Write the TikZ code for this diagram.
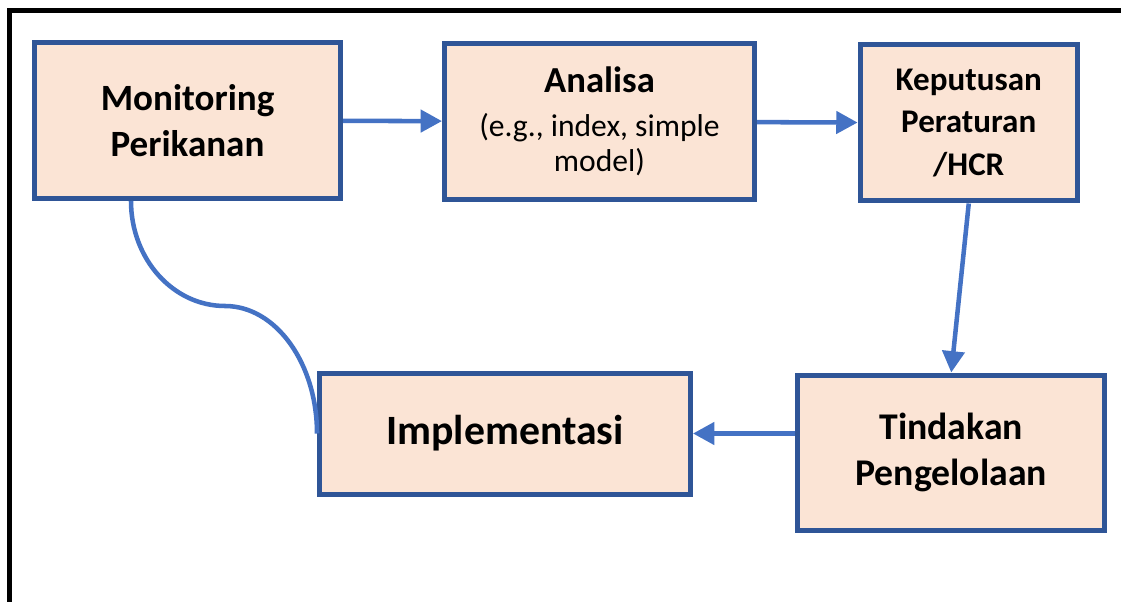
\documentclass[tikz,border=0pt]{standalone}
\usepackage{fontspec}
\setmainfont{Carlito}
\usepackage{tikz}
\usetikzlibrary{positioning}
\usetikzlibrary{arrows.meta}
\usetikzlibrary{calc}

\definecolor{boxfill}{HTML}{FBE4D5}
\definecolor{boxline}{HTML}{2F5597}
\definecolor{flowline}{HTML}{4472C4}

\begin{document}
\begin{tikzpicture}[x=0.75pt, y=-0.75pt,
    stage/.style={draw=boxline, fill=boxfill, line width=3.75pt, align=center, inner sep=0pt},
    flow/.style={draw=flowline, line width=3.4pt, -{Triangle[length=16pt, width=16.5pt]}},
    loopline/.style={draw=flowline, line width=3.4pt}]

                \useasboundingbox (0,0) rectangle (1121,602);
                % Frame
                \draw[line width=3.75pt] (9.5,640) -- (9.5,11) -- (1160,11);

                % Nodes
                \node at (187.5,120.5) (monitor) [stage, minimum width=229.5pt, minimum height=117pt,
                    font=\fontsize{27.8}{35}\selectfont\bfseries] {Monitoring\\Perikanan};
                \node at (599.5,121.5) (analisa) [stage, minimum width=232.5pt, minimum height=117pt,
                    font=\fontsize{23.7}{26.3}\selectfont]
                    {{\fontsize{27.5}{26.3}\selectfont\bfseries Analisa}\\[6.5pt](e.g., index, simple\\model)};
                \node at (968.75,123) (hcr) [stage, minimum width=163pt, minimum height=117pt,
                    font=\fontsize{24.8}{32}\selectfont\bfseries] {Keputusan\\Peraturan\\/HCR};
                \node at (951.25,452.5) (tindakan) [stage, minimum width=230pt, minimum height=116.25pt,
                    font=\fontsize{28.3}{34}\selectfont\bfseries] {Tindakan\\Pengelolaan};
                \node at (505,433.5) (impl) [stage, minimum width=278.25pt, minimum height=90.75pt,
                    font=\fontsize{31.3}{34}\selectfont\bfseries] {Implementasi};

                % Arrows
                \draw[flow] (monitor) -- (analisa);
                \draw[flow] (analisa) -- (hcr);
                \draw[flow] (hcr.south) -- (tindakan.north);
                \draw[flow] (tindakan.west |- impl.east) -- (impl.east);

                % Return line: Implementasi back up to Monitoring
                \coordinate (dip) at (225,306);
                \draw[loopline] (impl.west) .. controls +(0,-70) and +(51,0) .. (dip)
                    .. controls +(-52,0) and +(0,58) .. ($(monitor.south)+(-56.5,0)$);

\end{tikzpicture}
\end{document}
